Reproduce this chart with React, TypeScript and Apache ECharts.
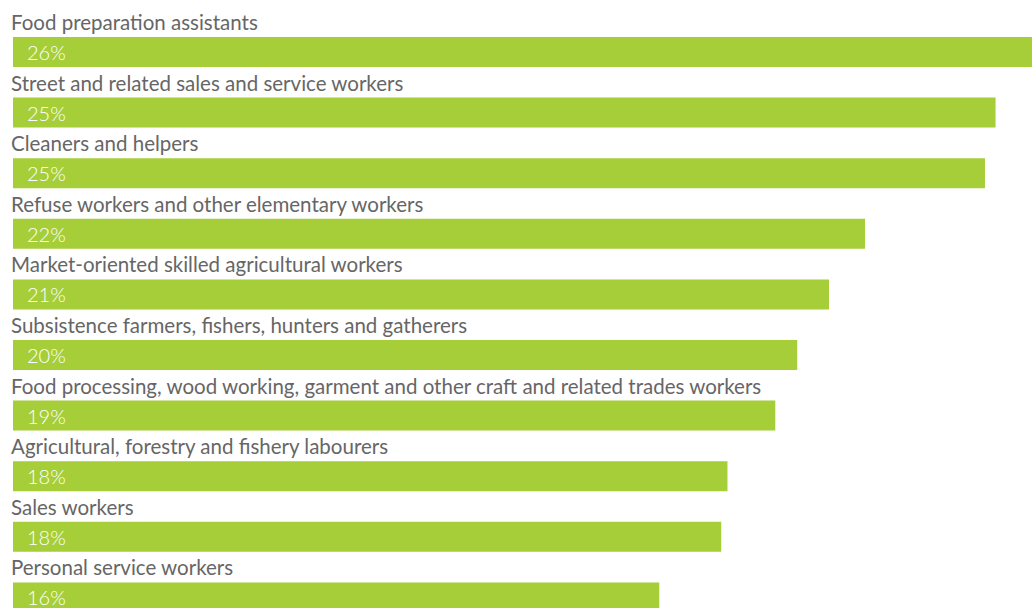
import React, { useEffect, useRef } from "react";
import * as echarts from "echarts";

const categories = [
  "Food preparation assistants",
  "Street and related sales and service workers",
  "Cleaners and helpers",
  "Refuse workers and other elementary workers",
  "Market-oriented skilled agricultural workers",
  "Subsistence farmers, fishers, hunters and gatherers",
  "Food processing, wood working, garment and other craft and related trades workers",
  "Agricultural, forestry and fishery labourers",
  "Sales workers",
  "Personal service workers",
];
const values = [26.0, 25.07, 24.8, 21.74, 20.82, 20.01, 19.45, 18.23, 18.07, 16.49];
const valueLabels = ["26%", "25%", "25%", "22%", "21%", "20%", "19%", "18%", "18%", "16%"];

const FONT = "Lato";

export default function App() {
  const ref = useRef<HTMLDivElement>(null);
  useEffect(() => {
    document.body.style.margin = "0";
    const chart = echarts.init(ref.current!, undefined, { renderer: "svg" });
    chart.setOption({
      animation: false,
      grid: { left: 13, right: 0, top: 21.7, bottom: 12.3, containLabel: false },
      xAxis: {
        type: "value",
        min: 0,
        max: values[0],
        show: false,
      },
      yAxis: {
        type: "category",
        data: categories,
        inverse: true,
        show: false,
      },
      series: [
        {
          type: "bar",
          data: values,
          barWidth: 30,
          itemStyle: { color: "#a6ce39" },
          label: {
            show: true,
            position: [14, 15],
            verticalAlign: "middle",
            align: "left",
            color: "#ffffff",
            fontFamily: FONT,
            fontSize: 20,
            fontWeight: 300,
            formatter: (p: any) => valueLabels[p.dataIndex],
          },
          silent: true,
        },
        {
          type: "bar",
          data: values,
          barWidth: 30,
          barGap: "-100%",
          itemStyle: { color: "rgba(0,0,0,0)" },
          label: {
            show: true,
            position: [-2, -15],
            verticalAlign: "middle",
            align: "left",
            color: "#666666",
            fontFamily: FONT,
            fontSize: 20.5,
            formatter: (p: any) => categories[p.dataIndex],
          },
          silent: true,
        },
      ],
    });
    return () => chart.dispose();
  }, []);
  return (
    <div
      style={{
        position: "absolute",
        left: 0,
        top: 0,
        width: 1032,
        height: 608,
        overflow: "hidden",
      }}
    >
      <div ref={ref} style={{ width: 1032, height: 640 }} />
    </div>
  );
}
